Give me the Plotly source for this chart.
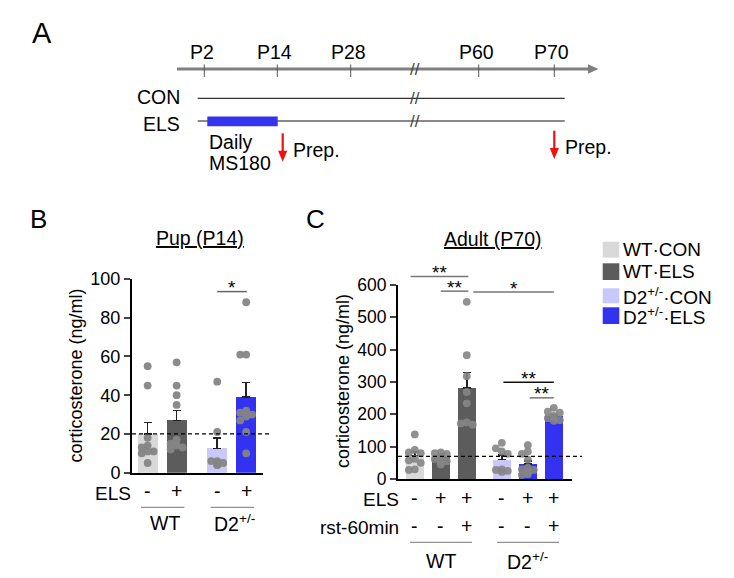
import plotly.graph_objects as go

W, H = 734, 578

# ---------------- data ----------------
timeline_labels = ["P2", "P14", "P28", "P60", "P70"]
condition_labels = ["CON", "ELS"]
stress_label = ["Daily", "MS180"]
prep_label = "Prep."

legend_labels = ["WT·CON", "WT·ELS", "D2<sup>+/-</sup>·CON", "D2<sup>+/-</sup>·ELS"]
genotypes = ["WT", "D2<sup>+/-</sup>"]
y_title = "corticosterone (ng/ml)"

pup_title = "Pup (P14)"
pup_els = ["-", "+", "-", "+"]
pup_means = [20, 27, 12.5, 39]
pup_sem = [6, 5, 5.5, 7.5]
pup_wt_con = [55, 45, 18, 14, 13, 11, 11, 10, 5]
pup_wt_els = [57, 45, 40, 35, 17, 15, 14, 13, 12]
pup_d2_con = [47, 21, 6, 5, 5, 4, 4, 6]
pup_d2_els = [88, 61, 61, 32, 31, 30, 29, 27, 21, 10]
pup_baseline = 20
pup_ticks = [0, 20, 40, 60, 80, 100]
pup_sig = [(2, 3, "*")]

adult_title = "Adult (P70)"
adult_els = ["-", "+", "+", "-", "+", "+"]
adult_rst = ["-", "-", "+", "-", "-", "+"]
adult_means = [73, 68, 282, 60, 47, 195]
adult_sem = [10, 6, 47, 15, 8, 5]
adult_wt_con = [138, 90, 82, 80, 62, 58, 50, 30, 28]
adult_wt_els = [82, 80, 78, 70, 65, 62, 55, 50, 45]
adult_wt_els_rst = [548, 383, 318, 269, 234, 175, 172, 168]
adult_d2_con = [112, 95, 85, 78, 30, 28, 25, 22]
adult_d2_els = [105, 85, 78, 60, 35, 30, 28, 20, 15, 12]
adult_d2_els_rst = [220, 208, 205, 195, 192, 188, 182, 180]
adult_baseline = 70
adult_ticks = [0, 100, 200, 300, 400, 500, 600]
adult_sig = [(0, 2, "**"), (1, 2, "**"), (2, 5, "*"), (3, 5, "**"), (4, 5, "**")]

# ---------------- style / layout ----------------
FONT = "Liberation Sans, Arial, sans-serif"
C_LGRAY, C_DGRAY, C_LBLUE, C_BLUE = "#d9d9d9", "#5c5c5c", "#c8c8fa", "#3232f0"
pup_colors = [C_LGRAY, C_DGRAY, C_LBLUE, C_BLUE]
adult_colors = [C_LGRAY, C_DGRAY, C_DGRAY, C_LBLUE, C_BLUE, C_BLUE]
DOT = "#858585"


def px(x):
    return x / W


def py(y):
    return 1 - y / H


# bar positions (group layout)
pup_pos = [g * 2.4 + k for g in range(2) for k in range(2)]
adult_pos = [g * 3.35 + k for g in range(2) for k in range(3)]
BAR_W = 0.69

# axes geometry in pixels
B_X0, B_X1, B_Y0, B_Y1 = 132, 263, 472.7, 279
B_RANGE = [-0.54, 3.98]
C_X0, C_X1, C_Y0, C_Y1 = 398, 572, 479, 285
C_RANGE = [-0.646, 6.05]
b_ppx = (B_X1 - B_X0) / (B_RANGE[1] - B_RANGE[0])
b_ppy = (B_Y0 - B_Y1) / 100
c_ppx = (C_X1 - C_X0) / (C_RANGE[1] - C_RANGE[0])
c_ppy = (C_Y0 - C_Y1) / 600


def bx(v):
    return B_X0 + (v - B_RANGE[0]) * b_ppx


def by(v):
    return B_Y0 - v * b_ppy


def cx(v):
    return C_X0 + (v - C_RANGE[0]) * c_ppx


def cy(v):
    return C_Y0 - v * c_ppy


def swarm(values, ppx, ppy, diam=7.0, maxoff=9.5):
    """deterministic beeswarm offsets (data units of x)"""
    order = sorted(range(len(values)), key=lambda i: -values[i])
    placed = []
    offs = [0.0] * len(values)
    step = diam * 0.85
    for i in order:
        yp = values[i] * ppy
        best = None
        for k in [0, -1, 1, -2, 2, -3, 3]:
            xp = k * step
            if abs(xp) > maxoff + 0.01:
                continue
            ok = all(((xp - a) ** 2 + (yp - b) ** 2) ** 0.5 >= diam * 0.8 for a, b in placed)
            if ok:
                best = xp
                break
        if best is None:
            best = 0.0
        placed.append((best, yp))
        offs[i] = best / ppx
    return offs


fig = go.Figure()

# ---- panel B ----
fig.add_trace(go.Bar(
    x=pup_pos, y=pup_means, width=BAR_W, marker=dict(color=pup_colors, line=dict(width=0)),
    error_y=dict(type="data", array=pup_sem, arrayminus=[0] * 4, symmetric=False,
                 color="#222", thickness=1.5, width=4),
    xaxis="x", yaxis="y", showlegend=False, hoverinfo="skip"))
for pos, vals in zip(pup_pos, [pup_wt_con, pup_wt_els, pup_d2_con, pup_d2_els]):
    offs = swarm(vals, b_ppx, b_ppy)
    fig.add_trace(go.Scatter(
        x=[pos + o for o in offs], y=vals, mode="markers",
        marker=dict(size=7.8, color=DOT, opacity=0.95, line=dict(width=0)),
        xaxis="x", yaxis="y", showlegend=False, hoverinfo="skip", cliponaxis=False))

# ---- panel C ----
fig.add_trace(go.Bar(
    x=adult_pos, y=adult_means, width=BAR_W, marker=dict(color=adult_colors, line=dict(width=0)),
    error_y=dict(type="data", array=adult_sem, arrayminus=[0] * 6, symmetric=False,
                 color="#222", thickness=1.5, width=4),
    xaxis="x2", yaxis="y2", showlegend=False, hoverinfo="skip"))
for pos, vals in zip(adult_pos, [adult_wt_con, adult_wt_els, adult_wt_els_rst,
                                 adult_d2_con, adult_d2_els, adult_d2_els_rst]):
    offs = swarm(vals, c_ppx, c_ppy)
    fig.add_trace(go.Scatter(
        x=[pos + o for o in offs], y=vals, mode="markers",
        marker=dict(size=7.8, color=DOT, opacity=0.9, line=dict(width=0)),
        xaxis="x2", yaxis="y2", showlegend=False, hoverinfo="skip", cliponaxis=False))

shapes = []
ann = []


def text(x, y, s, size=19, xa="center", ya="middle", color="black", **kw):
    ann.append(dict(xref="paper", yref="paper", x=px(x), y=py(y), text=s, showarrow=False,
                    xanchor=xa, yanchor=ya, font=dict(family=FONT, size=size, color=color), **kw))


def line(x0, y0, x1, y1, color="black", width=1.0, dash=None):
    d = dict(type="line", xref="paper", yref="paper", x0=px(x0), y0=py(y0), x1=px(x1), y1=py(y1),
             line=dict(color=color, width=width))
    if dash:
        d["line"]["dash"] = dash
    shapes.append(d)


def poly(pts, color):
    path = "M " + " L ".join(f"{px(x)},{py(y)}" for x, y in pts) + " Z"
    shapes.append(dict(type="path", xref="paper", yref="paper", path=path,
                       fillcolor=color, line=dict(width=0)))


# ---- panel A : timeline ----
text(41.7, 33, "A", size=29)
line(177, 69, 590, 69, color="#808080", width=2.8)
poly([(588, 64.3), (598.5, 69), (588, 73.7)], "#808080")
tick_x = [204.3, 277.3, 350.7, 478.7, 554.3]
for tx, lab in zip(tick_x, timeline_labels):
    line(tx, 64.5, tx, 77, color="#555", width=1)
    text(tx - 2.5, 52, lab, size=19.5)
line(197.7, 98.3, 564.7, 98.3, color="#333", width=1.2)
line(197.7, 121, 564.7, 121, color="#8a8a8a", width=2)
shapes.append(dict(type="rect", xref="paper", yref="paper", x0=px(207.3), x1=px(277.7),
                   y0=py(126.3), y1=py(116.5), fillcolor="#3434ee", line=dict(width=0)))
for yy in [69, 98.3, 121]:
    text(415, yy + 0.5, "//", size=17, color="#444")
text(182, 97.5, condition_labels[0], size=19.5, xa="right")
text(182, 123.5, condition_labels[1], size=19.5, xa="right")
text(207, 142.5, stress_label[0], size=19.5, xa="left")
text(207, 162.5, stress_label[1], size=19.5, xa="left")
for ax, ytop, ytip, tx, ty in [(282.7, 133.3, 161.7, 291, 150), (554.3, 130.7, 159, 563, 147)]:
    line(ax, ytop, ax, ytip - 9, color="#ee1111", width=2.2)
    poly([(ax - 4.6, ytip - 11), (ax + 4.6, ytip - 11), (ax, ytip)], "#ee1111")
    text(tx, ty, prep_label, size=19.5, xa="left")

# ---- panel B decorations ----
text(38.8, 219, "B", size=26)
text(200, 238, f"<u>{pup_title}</u>", size=19.5)
text(75, 375.5, y_title, size=18, textangle=-90)
line(B_X0, by(pup_baseline), 270, by(pup_baseline), width=1.3, dash="4px,3px")
text(113, 493, "ELS", size=19)
for pos, s in zip(pup_pos, pup_els):
    text(bx(pos), 491, s, size=19.5)
for g in range(2):
    a, b = pup_pos[2 * g], pup_pos[2 * g + 1]
    line(bx(a - 0.23), 507.3, bx(b + 0.27), 507.3, color="#777", width=1)
    text(bx((a + b) / 2 + 0.1), 522.5, genotypes[g], size=19.5)
for (i, j, s) in pup_sig:
    yv = 93.5
    line(bx(pup_pos[i]), by(yv), bx(pup_pos[j] + 0.02), by(yv), color="#666", width=1.5)
    text(bx((pup_pos[i] + pup_pos[j]) / 2), by(yv) - 4, s, size=19)

# ---- panel C decorations ----
text(315, 219, "C", size=26)
text(493, 238.5, f"<u>{adult_title}</u>", size=19.5)
text(343, 381, y_title, size=18, textangle=-90)
line(C_X0, cy(adult_baseline), 582, cy(adult_baseline), width=1.3, dash="4px,3px")
text(401, 499, "ELS", size=19, xa="right")
text(401, 527.3, "rst-60min", size=19, xa="right")
for pos, s1, s2 in zip(adult_pos, adult_els, adult_rst):
    text(cx(pos), 497.5, s1, size=19.5)
    text(cx(pos), 526, s2, size=19.5)
for g in range(2):
    a, b = adult_pos[3 * g], adult_pos[3 * g + 2]
    line(cx(a - 0.18), 542.3, cx(b + 0.2), 542.3, color="#777", width=1)
    text(cx((a + b) / 2), 560.5, genotypes[g], size=19.5)
sig_levels = [626, 581, 578, 299, 251]
sig_x = [(-0.16, 0.06), (0.0, 0.06), (0.25, 0.0), (0.06, 0.0), (0.07, 0.0)]
sig_col = ["#777", "#777", "#777", "#111", "#777"]
for (i, j, s), yv, (dx0, dx1), col in zip(adult_sig, sig_levels, sig_x, sig_col):
    x0, x1 = adult_pos[i] + dx0, adult_pos[j] + dx1
    line(cx(x0), cy(yv), cx(x1), cy(yv), color=col, width=1.5)
    text(cx((x0 + x1) / 2), cy(yv) - 4, s, size=19)

# ---- legend ----
leg_y = [(241.7, 257.7), (263.3, 280), (288.3, 303.3), (307.3, 324)]
for (y0, y1), lab, col in zip(leg_y, legend_labels, pup_colors):
    shapes.append(dict(type="rect", xref="paper", yref="paper", x0=px(602.7), x1=px(619.3),
                       y0=py(y1), y1=py(y0), fillcolor=col, line=dict(width=0)))
    text(621, (y0 + y1) / 2, lab, size=19, xa="left")

axis_common = dict(showline=True, linecolor="black", linewidth=2, showgrid=False, zeroline=False,
                   fixedrange=True, automargin=False)
fig.update_layout(
    width=W, height=H, margin=dict(l=0, r=0, t=0, b=0, pad=0, autoexpand=False), autosize=False,
    paper_bgcolor="white", plot_bgcolor="rgba(0,0,0,0)",
    font=dict(family=FONT, color="black"),
    bargap=0, barmode="overlay", showlegend=False,
    xaxis=dict(domain=[px(B_X0), px(B_X1)], range=B_RANGE, showticklabels=False, ticks="",
               anchor="y", **axis_common),
    yaxis=dict(domain=[py(B_Y0), py(B_Y1)], range=[0, 100], tickvals=pup_ticks, ticks="outside",
               ticklen=6, tickwidth=1.5, tickfont=dict(family=FONT, size=18), anchor="x",
               **axis_common),
    xaxis2=dict(domain=[px(C_X0), px(C_X1)], range=C_RANGE, showticklabels=False, ticks="",
                anchor="y2", **axis_common),
    yaxis2=dict(domain=[py(C_Y0), py(C_Y1)], range=[0, 600], tickvals=adult_ticks, ticks="outside",
                ticklen=6, tickwidth=1.5, tickfont=dict(family=FONT, size=17.5), anchor="x2",
                **axis_common),
    shapes=shapes, annotations=ann,
)

fig.write_html("out.html", config={"displayModeBar": False},
               post_script="document.body.style.margin='0';document.body.style.overflow='hidden';")
